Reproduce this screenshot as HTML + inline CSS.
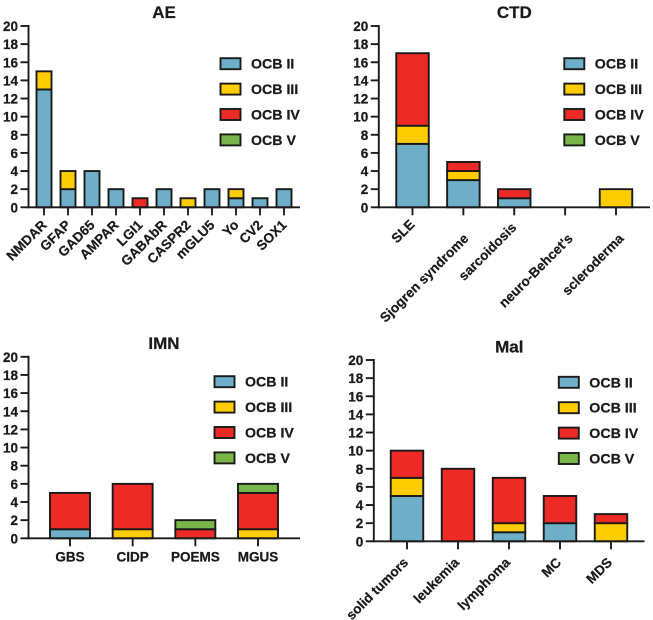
<!DOCTYPE html>
<html lang="en">
<head>
<meta charset="utf-8">
<title>OCB pattern by disease group</title>
<style>
html,body{margin:0;padding:0;background:#fff;}
svg{display:block;filter:blur(0.3px);}
text{font-family:"Liberation Sans",Arial,sans-serif;font-weight:bold;fill:#1a1a1a;stroke:#1a1a1a;stroke-width:0.25px;}
</style>
</head>
<body>
<svg id="chart" width="653" height="620" viewBox="0 0 653 620" xmlns="http://www.w3.org/2000/svg"></svg>
<script>
const seriesNames = ['OCB II', 'OCB III', 'OCB IV', 'OCB V'];
const seriesColors = ['#6eaec9', '#ffcc00', '#ee2a26', '#78b649'];
const yTicks = [0, 2, 4, 6, 8, 10, 12, 14, 16, 18, 20];

const aeCategories = ['NMDAR', 'GFAP', 'GAD65', 'AMPAR', 'LGI1', 'GABAbR', 'CASPR2', 'mGLU5', 'Yo', 'CV2', 'SOX1'];
const aeOcb2 = [13, 2, 4, 2, 0, 2, 0, 2, 1, 1, 2];
const aeOcb3 = [2, 2, 0, 0, 0, 0, 1, 0, 1, 0, 0];
const aeOcb4 = [0, 0, 0, 0, 1, 0, 0, 0, 0, 0, 0];
const aeOcb5 = [0, 0, 0, 0, 0, 0, 0, 0, 0, 0, 0];

const ctdCategories = ['SLE', 'Sjogren syndrome', 'sarcoidosis', "neuro-Behcet's", 'scleroderma'];
const ctdOcb2 = [7, 3, 1, 0, 0];
const ctdOcb3 = [2, 1, 0, 0, 2];
const ctdOcb4 = [8, 1, 1, 0, 0];
const ctdOcb5 = [0, 0, 0, 0, 0];

const imnCategories = ['GBS', 'CIDP', 'POEMS', 'MGUS'];
const imnOcb2 = [1, 0, 0, 0];
const imnOcb3 = [0, 1, 0, 1];
const imnOcb4 = [4, 5, 1, 4];
const imnOcb5 = [0, 0, 1, 1];

const malCategories = ['solid tumors', 'leukemia', 'lymphoma', 'MC', 'MDS'];
const malOcb2 = [5, 0, 1, 2, 0];
const malOcb3 = [2, 0, 1, 0, 2];
const malOcb4 = [3, 8, 5, 3, 1];
const malOcb5 = [0, 0, 0, 0, 0];

const NS = 'http://www.w3.org/2000/svg';
const root = document.getElementById('chart');
const INK = '#1a1a1a';

function make(parent, tag, attrs, txt) {
  const el = document.createElementNS(NS, tag);
  for (const k in attrs) el.setAttribute(k, attrs[k]);
  if (txt !== undefined) el.textContent = txt;
  parent.appendChild(el);
  return el;
}

function drawPanel(p) {
  const g = make(root, 'g', {});
  
  

  const yMax = yTicks[yTicks.length - 1];
  const yScale = v => p.y0 - (v / yMax) * (p.y0 - p.yTop);
  const n = p.categories.length;
  const xScale = i => p.first + i * (p.last - p.first) / (n - 1);

  const title = make(g, 'text', {x: p.titleX, y: p.titleY, 'text-anchor': 'middle', 'font-size': 17}, p.title);
  
  

  // bars
  for (let i = 0; i < n; i++) {
    let base = 0;
    p.series.forEach((vals, s) => {
      const v = vals[i];
      if (!v) return;
      const top = yScale(base + v);
      const bot = yScale(base);
      const r = make(g, 'rect', {
        x: xScale(i) - p.barW / 2, y: top, width: p.barW, height: bot - top,
        fill: seriesColors[s], stroke: INK, 'stroke-width': 1.9
      });
      
      
      base += v;
    });
  }

  // y axis
  const yAxis = make(g, 'line', {x1: p.axisX, x2: p.axisX, y1: p.yTop - 1, y2: p.y0 + 1, stroke: INK, 'stroke-width': 1.9});
  
  
  yTicks.forEach(t => {
    const y = yScale(t);
    const tick = make(g, 'line', {x1: p.axisX - 8, x2: p.axisX, y1: y, y2: y, stroke: INK, 'stroke-width': 1.9});
    
    
    const lab = make(g, 'text', {x: p.axisX - 10.5, y: y + 5, 'text-anchor': 'end', 'font-size': 13.5}, String(t));
    
    
  });

  // x axis
  const xAxis = make(g, 'line', {x1: p.axisX - 1, x2: p.axisEnd, y1: p.y0, y2: p.y0, stroke: INK, 'stroke-width': 1.9});
  
  
  p.categories.forEach((c, i) => {
    const x = xScale(i);
    const tick = make(g, 'line', {x1: x, x2: x, y1: p.y0, y2: p.y0 + 8, stroke: INK, 'stroke-width': 1.9});
    
    
    let lab;
    if (p.rotate) {
      const nudge = p.labelNudge(i);
      const lx = x + 4 + nudge[0], ly = p.y0 + 21 + nudge[1];
      lab = make(g, 'text', {x: lx, y: ly, 'text-anchor': 'end', 'font-size': 13.5, transform: 'rotate(-45 ' + lx + ' ' + ly + ')'}, c);
    } else {
      lab = make(g, 'text', {x: x, y: p.y0 + 23, 'text-anchor': 'middle', 'font-size': 13.5}, c);
    }
    
    
  });

  // legend
  const leg = make(g, 'g', {});
  
  
  seriesNames.forEach((name, s) => {
    const cy = p.legY + s * p.legStep;
    const sw = make(leg, 'rect', {x: p.legX, y: cy - 5.5, width: 20, height: 11, fill: seriesColors[s], stroke: INK, 'stroke-width': 1.9});
    
    
    const t = make(leg, 'text', {x: p.legX + 30.5, y: cy + 5, 'font-size': 14.2}, name);
    
    
  });
}

drawPanel({key: 'ae', title: 'AE', categories: aeCategories, series: [aeOcb2, aeOcb3, aeOcb4, aeOcb5],
  titleX: 164, titleY: 18, axisX: 28.5, axisEnd: 300, y0: 207.3, yTop: 26, first: 44, last: 284, barW: 15,
  rotate: true, labelNudge: () => [-0.5, -2.5], legX: 220.5, legY: 63.7, legStep: 25.4});
drawPanel({key: 'ctd', title: 'CTD', categories: ctdCategories, series: [ctdOcb2, ctdOcb3, ctdOcb4, ctdOcb5],
  titleX: 514.3, titleY: 18, axisX: 378.8, axisEnd: 650, y0: 207.3, yTop: 26, first: 412.5, last: 616, barW: 32.5,
  rotate: true, labelNudge: i => (i === 0 ? [-1, -3] : i === 2 ? [-1, 0] : i === 1 ? [2, 11] : [4.5, 11]),
  legX: 564.3, legY: 63.7, legStep: 25.4});
drawPanel({key: 'imn', title: 'IMN', categories: imnCategories, series: [imnOcb2, imnOcb3, imnOcb4, imnOcb5],
  titleX: 164, titleY: 349, axisX: 28.5, axisEnd: 300, y0: 538.3, yTop: 356.8, first: 70, last: 258, barW: 40,
  rotate: false, labelNudge: () => [0, 0], legX: 214.5, legY: 381.7, legStep: 25.4});
drawPanel({key: 'mal', title: 'Mal', categories: malCategories, series: [malOcb2, malOcb3, malOcb4, malOcb5],
  titleX: 509.3, titleY: 352.5, axisX: 373.8, axisEnd: 644.5, y0: 541.3, yTop: 360, first: 407, last: 611, barW: 32.5,
  rotate: true, labelNudge: () => [-2, 1], legX: 558.8, legY: 382.3, legStep: 25.4});
</script>
</body>
</html>
